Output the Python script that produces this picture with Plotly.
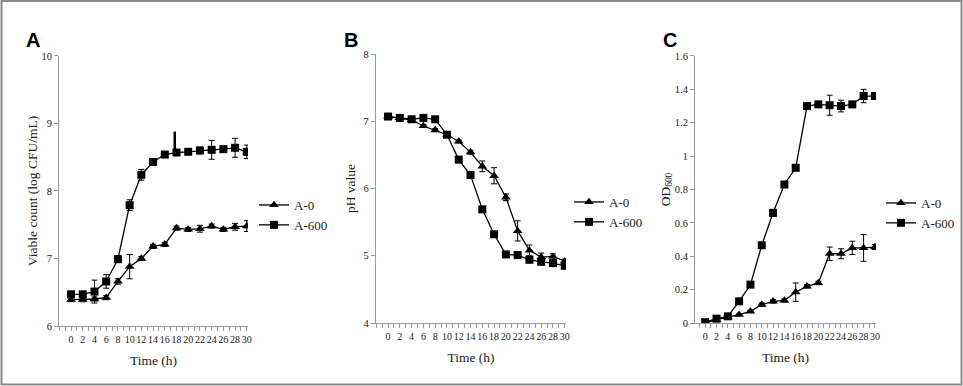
import plotly.graph_objects as go

time = [0, 2, 4, 6, 8, 10, 12, 14, 16, 18, 20, 22, 24, 26, 28, 30]

# Panel A: viable count (log CFU/mL)
a_a0 = [6.39, 6.39, 6.40, 6.42, 6.66, 6.88, 7.00, 7.18, 7.21, 7.45, 7.43, 7.44, 7.48, 7.43, 7.47, 7.48]
a_a0_err = [0.03, 0.03, 0.03, 0.03, 0.04, 0.18, 0.03, 0.03, 0.03, 0.03, 0.03, 0.05, 0.03, 0.03, 0.05, 0.08]
a_a600 = [6.47, 6.47, 6.51, 6.66, 6.99, 7.79, 8.24, 8.43, 8.54, 8.57, 8.58, 8.60, 8.61, 8.62, 8.64, 8.58]
a_a600_err = [0.04, 0.04, 0.17, 0.10, 0.05, 0.08, 0.08, 0.03, 0.03, 0.03, 0.03, 0.05, 0.14, 0.03, 0.14, 0.10]
a_mark_x = [17.7, 17.7]
a_mark_y = [8.60, 8.88]

# Panel B: pH value
b_a0 = [7.07, 7.05, 7.02, 6.93, 6.87, 6.80, 6.70, 6.54, 6.33, 6.19, 5.87, 5.37, 5.08, 4.98, 4.99, 4.92]
b_a0_err = [0.03, 0.02, 0.02, 0.02, 0.02, 0.02, 0.02, 0.03, 0.08, 0.12, 0.05, 0.15, 0.08, 0.06, 0.04, 0.03]
b_a600 = [7.07, 7.05, 7.03, 7.05, 7.03, 6.80, 6.43, 6.20, 5.69, 5.32, 5.02, 5.01, 4.94, 4.91, 4.89, 4.85]
b_a600_err = [0.03, 0.02, 0.02, 0.03, 0.02, 0.02, 0.02, 0.02, 0.02, 0.02, 0.02, 0.02, 0.02, 0.03, 0.03, 0.03]

# Panel C: OD600
c_a0 = [0.00, 0.02, 0.035, 0.05, 0.07, 0.11, 0.13, 0.135, 0.185, 0.22, 0.24, 0.415, 0.415, 0.45, 0.45, 0.455]
c_a0_err = [0.005, 0.005, 0.005, 0.005, 0.005, 0.01, 0.01, 0.01, 0.055, 0.01, 0.01, 0.04, 0.03, 0.04, 0.08, 0.015]
c_a600 = [0.005, 0.026, 0.04, 0.13, 0.23, 0.466, 0.66, 0.83, 0.93, 1.30, 1.31, 1.305, 1.30, 1.31, 1.36, 1.36]
c_a600_err = [0.005, 0.005, 0.005, 0.01, 0.01, 0.015, 0.02, 0.01, 0.01, 0.01, 0.01, 0.06, 0.035, 0.01, 0.04, 0.015]

series_names = ["A-0", "A-600"]
panel_letters = ["A", "B", "C"]
y_titles = ["Viable count (log CFU/mL)", "pH value", "OD<sub>600</sub>"]
x_title = "Time (h)"

SERIF = "Liberation Serif, Times New Roman, serif"
AXC = "#9a9a9a"

fig = go.Figure()

panels = [
    (a_a0, a_a0_err, a_a600, a_a600_err, "x", "y", "legend"),
    (b_a0, b_a0_err, b_a600, b_a600_err, "x2", "y2", "legend2"),
    (c_a0, c_a0_err, c_a600, c_a600_err, "x3", "y3", "legend3"),
]

for y0, e0, y6, e6, xa, ya, lg in panels:
    for vals, errs, sym, name in [(y0, e0, "triangle-up", series_names[0]),
                                   (y6, e6, "square", series_names[1])]:
        fig.add_trace(go.Scatter(
            x=time, y=vals, mode="lines+markers", name=name,
            xaxis=xa, yaxis=ya, legend=lg,
            line=dict(color="black", width=1.3),
            marker=dict(symbol=sym, size=8 if sym == "square" else 8.5, color="black"),
            error_y=dict(type="data", array=errs, visible=True, color="black",
                         thickness=1, width=3),
        ))

fig.add_trace(go.Scatter(x=a_mark_x, y=a_mark_y, mode="lines", showlegend=False,
                         xaxis="x", yaxis="y", line=dict(color="black", width=2.5),
                         hoverinfo="skip"))

def xaxis(domain, rng, anchor):
    return dict(domain=domain, range=rng, anchor=anchor, showline=True, linecolor=AXC,
                linewidth=1, ticks="outside", tickcolor=AXC, ticklen=4,
                tickmode="array", tickvals=time, ticktext=[str(t) for t in time],
                tickangle=0, automargin=False,
                showgrid=False, zeroline=False,
                minor=dict(dtick=1, tick0=0, ticks="outside", ticklen=4, tickcolor=AXC),
                tickfont=dict(family=SERIF, size=10, color="#222"),
                title=dict(text=x_title, font=dict(family=SERIF, size=13.5, color="#222"),
                           standoff=11))

def yaxis(domain, rng, dtick, anchor, title, standoff):
    return dict(domain=domain, range=rng, anchor=anchor, showline=True, linecolor=AXC,
                linewidth=1, ticks="outside", tickcolor=AXC, ticklen=4, dtick=dtick,
                showgrid=False, zeroline=False, automargin=False,
                tickfont=dict(family=SERIF, size=10.5, color="#222"),
                title=dict(text=title, font=dict(family=SERIF, size=13.5, color="#222"),
                           standoff=standoff))

fig.update_layout(
    width=963, height=386, margin=dict(l=0, r=0, t=0, b=0),
    paper_bgcolor="white", plot_bgcolor="white", showlegend=True,
    xaxis=xaxis([0.0613, 0.2575], [-2.05, 30.2], "y"),
    yaxis=yaxis([0.1554, 0.855], [6, 10], 1, "x", y_titles[0], 0),
    xaxis2=xaxis([0.3904, 0.5877], [-2.05, 30.2], "y2"),
    yaxis2=yaxis([0.1632, 0.860], [4, 8], 1, "x2", y_titles[1], 4),
    xaxis3=xaxis([0.7217, 0.9097], [-1.8, 30.2], "y3"),
    yaxis3=yaxis([0.1632, 0.855], [0, 1.6], 0.2, "x3", y_titles[2], 1),
)

def legend(xpx, ypx):
    return dict(x=xpx / 963, y=1 - ypx / 386, xanchor="left", yanchor="middle",
                bgcolor="rgba(0,0,0,0)", font=dict(family=SERIF, size=13, color="#222"),
                itemwidth=30, tracegroupgap=0)

fig.update_layout(legend=legend(254, 215), legend2=legend(569, 212), legend3=legend(881, 213))

for letter, xpx in zip(panel_letters, [33, 351, 670]):
    fig.add_annotation(x=xpx / 963, y=1 - 40 / 386, xref="paper", yref="paper",
                       xanchor="center", yanchor="middle",
                       text="<b>%s</b>" % letter, showarrow=False,
                       font=dict(family="Liberation Sans, Arial, sans-serif", size=20, color="black"))

fig.add_shape(type="rect", xref="paper", yref="paper", x0=1.5 / 963, x1=961.5 / 963,
              y0=1.5 / 386, y1=1 - 1 / 386, line=dict(color="#8c8c8c", width=2))

fig.write_html("out.html", config={"displayModeBar": False},
               post_script="document.body.style.margin='0';document.body.style.overflow='hidden';")
